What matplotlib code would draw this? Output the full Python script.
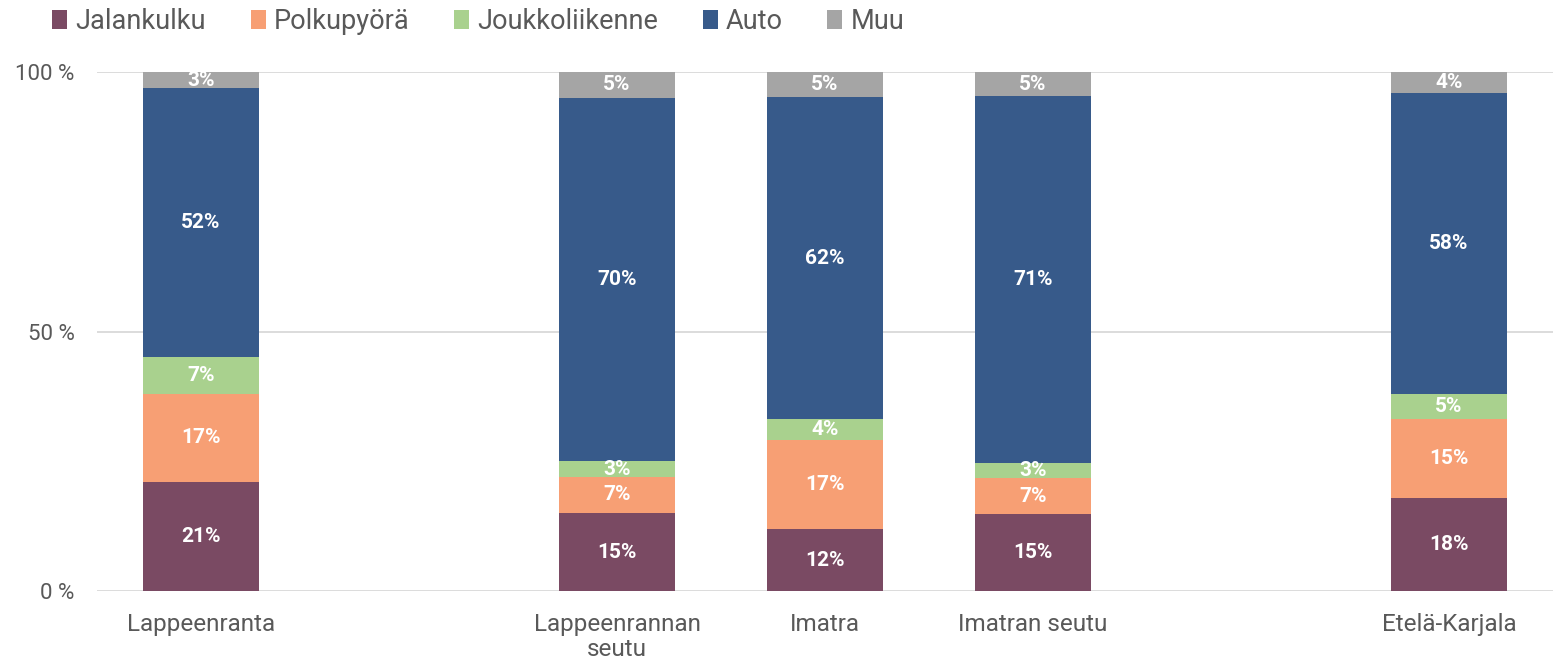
import matplotlib
matplotlib.use("Agg")
import matplotlib.pyplot as plt
import numpy as np

plt.rcParams['font.family'] = ['Roboto', 'DejaVu Sans']

categories = ["Lappeenranta", "", "Lappeenrannan\nseutu", "Imatra", "Imatran seutu", "", "Etelä-Karjala"]
series_names = ["Jalankulku", "Polkupyörä", "Joukkoliikenne", "Auto", "Muu"]
jalankulku     = [21.0, np.nan, 15.0, 11.9, 14.8, np.nan, 17.9]
polkupyora     = [17.0, np.nan, 7.0, 17.2, 7.0, np.nan, 15.2]
joukkoliikenne = [7.1, np.nan, 3.0, 4.0, 2.9, np.nan, 4.9]
auto           = [51.8, np.nan, 70.0, 62.0, 70.6, np.nan, 58.0]
muu            = [3.1, np.nan, 5.0, 4.9, 4.7, np.nan, 4.0]
colors = ["#7A4A63", "#F79F74", "#A9D18E", "#375A8A", "#A5A5A5"]
yticks = [0, 50, 100]
ytick_labels = ["0 %", "50 %", "100 %"]

series = [jalankulku, polkupyora, joukkoliikenne, auto, muu]

fig = plt.figure(figsize=(15.6, 6.63), dpi=100)
ax = fig.add_axes([97/1560, 1-591/663, (1553-97)/1560, (591-72)/663])

x = np.arange(len(categories))
bottom = np.zeros(len(categories))
handles = []
for name, vals, col in zip(series_names, series, colors):
    v = np.array(vals, dtype=float)
    vv = np.nan_to_num(v)
    b = ax.bar(x, vv, 0.553, bottom=bottom, color=col, label=name, zorder=3)
    handles.append(b)
    for xi, val, bt in zip(x, v, bottom):
        if not np.isnan(val):
            ax.text(xi, bt + val/2, f"{val:.0f}%", ha='center', va='center',
                    color='white', fontsize=15, fontweight='bold', zorder=4)
    bottom = bottom + vv

ax.set_xlim(-0.5, len(categories)-0.5)
ax.set_ylim(0, 100)
ax.set_yticks(yticks)
ax.set_yticklabels(ytick_labels)
ax.yaxis.grid(True, color="#D9D9D9", linewidth=1.3, zorder=0)
ax.set_axisbelow(True)
for s in ax.spines.values():
    s.set_visible(False)
ax.tick_params(axis='x', length=0, labelsize=17.5, labelcolor="#595959", pad=16)
ax.tick_params(axis='y', length=0, labelsize=16, labelcolor="#595959", pad=16)
ax.set_xticks(x)
ax.set_xticklabels(categories, linespacing=1.12)

fig.legend(handles=handles, labels=series_names, loc='center left', bbox_to_anchor=(0.018, 0.968),
           ncol=5, frameon=False, fontsize=19.5, handlelength=0.55, handleheight=0.7,
           handletextpad=0.3, columnspacing=1.65, labelcolor="#595959")

fig.savefig("out.png", dpi=100)
